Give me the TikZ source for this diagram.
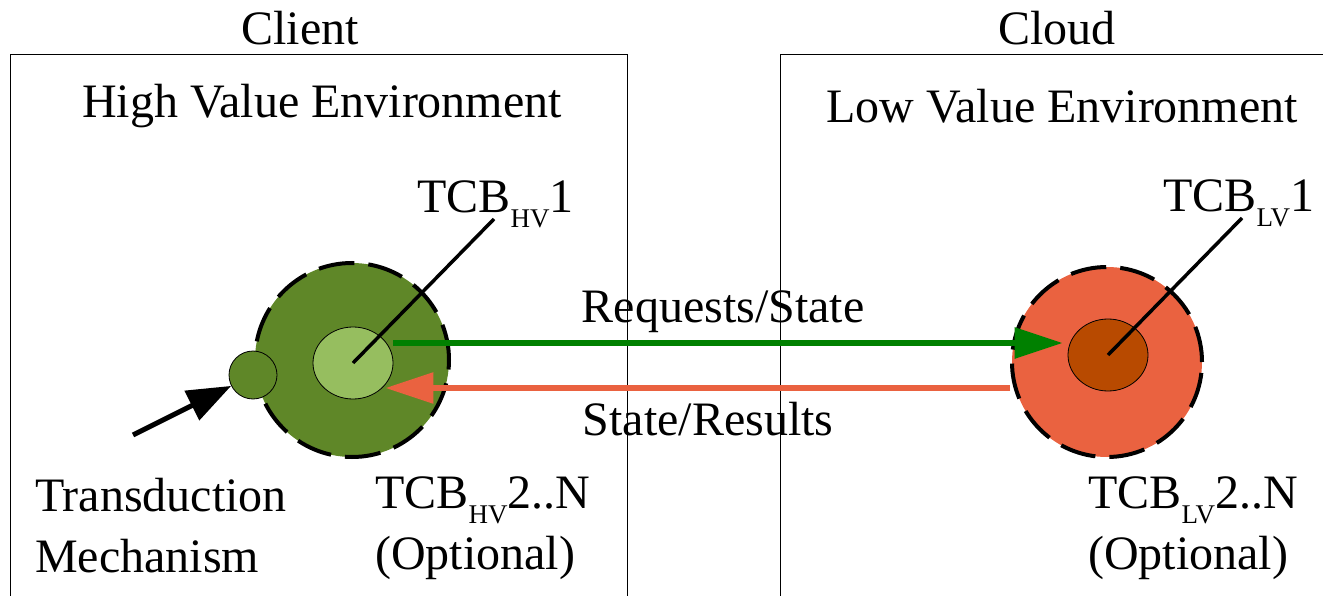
\documentclass[tikz,border=0pt]{standalone}
\usepackage{fontspec}
\setmainfont{Liberation Serif}
\usetikzlibrary{arrows.meta,shapes.geometric}

\definecolor{hvdark}{RGB}{95,135,40}
\definecolor{hvlight}{RGB}{150,190,95}
\definecolor{lvorange}{RGB}{234,98,64}
\definecolor{lvbrown}{RGB}{184,74,0}
\definecolor{reqgreen}{RGB}{0,128,0}

\newcommand\lowsub[1]{\raisebox{-15pt}{\fontsize{27}{27}\selectfont #1}}

\begin{document}
\begin{tikzpicture}[x=1pt,y=-1pt,
  label/.style={inner sep=0pt,font=\fontsize{48}{61}\selectfont},
  zone/.style={circle,minimum size=#1,inner sep=0pt,
    draw=black,line width=4pt,dash pattern=on 36pt off 14pt},
  core/.style={ellipse,minimum width=80pt,minimum height=72pt,
    inner sep=0pt,draw=black,line width=0.8pt},
  feed/.style={line width=6pt,-{Triangle[length=48pt,width=30pt]}},
  pointer/.style={line width=5pt,-{Triangle[length=44pt,width=32pt]}},
  tag/.style={line width=3.5pt}]

\useasboundingbox (0,0) rectangle (1323,596);
\clip (0,0) rectangle (1323,596);

%% boxes
\draw[line width=1pt] (10,600) -- (10,55) -- (627,55) -- (627,600);
\draw[line width=1pt] (780,600) -- (780,55) -- (1330,55);

\node[label,anchor=base] (client) at (300,45) {Client};
\node[label,anchor=base] (cloud) at (1057,45) {Cloud};
\node[label,anchor=base] (hvenv) at (322,118) {High Value Environment};
\node[label,anchor=base] (lvenv) at (1062,123) {Low Value Environment};

%% high value side
\node[zone=194pt,fill=hvdark] (hvzone) at (352,360) {};
\node[core,fill=hvlight] (hvcore) at (353,363) {};
\node[circle,minimum size=48pt,inner sep=0pt,fill=hvdark,draw=black,
  line width=0.8pt] (trans) at (253,375) {};

\node[label,anchor=base west] (hvone) at (417,213) {TCB\lowsub{HV}1};
\coordinate (hvtip) at (494,219);
\draw[tag] (hvcore.center) -- (hvtip);

%% low value side
\node[zone=190pt,fill=lvorange] (lvzone) at (1107,362) {};
\node[core,fill=lvbrown] (lvcore) at (1108,355) {};

\node[label,anchor=base west] (lvone) at (1163,212) {TCB\lowsub{LV}1};
\coordinate (lvtip) at (1242,218);
\draw[tag] (lvcore.center) -- (lvtip);

%% traffic
\draw[feed,reqgreen,shorten >=5pt] (hvcore.east |- 0,343) -- (lvcore.west |- 0,343);
\draw[feed,lvorange,shorten >=-8pt] (lvzone.west |- 0,388) -- (hvcore.east |- 0,388);
\node[label,anchor=base] (req) at (723,322) {Requests/State};
\node[label,anchor=base] (res) at (708,435) {State/Results};

%% transduction
\coordinate (transtail) at (133,435);
\draw[pointer] (transtail) -- (trans);
\node[label,anchor=base west,align=left] (transtext) at (35,572)
  {Transduction\\Mechanism};

\node[label,anchor=base west,align=left] (hvmore) at (375,569)
  {TCB\lowsub{HV}2..N\\(Optional)};
\node[label,anchor=base west,align=left] (lvmore) at (1088,569)
  {TCB\lowsub{LV}2..N\\(Optional)};

\end{tikzpicture}
\end{document}
